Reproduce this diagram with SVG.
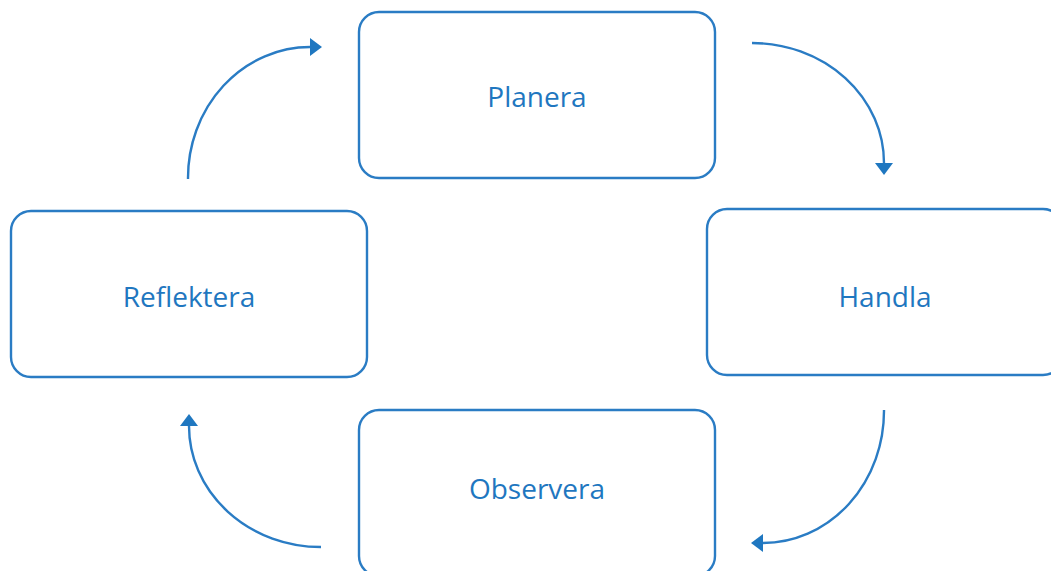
<svg xmlns="http://www.w3.org/2000/svg" width="1051" height="571" viewBox="0 0 1051 571">
<style>
.box{fill:#fff;stroke:#2a7cc4;stroke-width:2.4}
.lbl{font-family:"Open Sans","Liberation Sans",sans-serif;font-size:28px;fill:#1f77c0;text-anchor:middle}
.arc{fill:none;stroke:#2a7cc4;stroke-width:2.4}
</style>
<defs>
<marker id="ah" viewBox="0 0 12 18" refX="0" refY="9" markerWidth="12" markerHeight="18" markerUnits="userSpaceOnUse" orient="auto">
<path d="M0,0 L12,9 L0,18 Z" fill="#1f77c0"/>
</marker>
</defs>
<rect width="1051" height="571" fill="#fff"/>
<g id="connectors">
<path class="arc" d="M188,179 A122,131 0 0 1 310,47" marker-end="url(#ah)"/>
<path class="arc" d="M752,43 A132,120 0 0 1 884,163" marker-end="url(#ah)"/>
<path class="arc" d="M884,410 A121,132 0 0 1 763,543" marker-end="url(#ah)"/>
<path class="arc" d="M321,547 A132,121 0 0 1 189,426" marker-end="url(#ah)"/>
</g>
<g id="planera">
<rect class="box" x="359" y="12" width="356" height="166" rx="20"/>
<text class="lbl" x="537" y="107">Planera</text>
</g>
<g id="handla">
<rect class="box" x="707" y="209" width="356" height="166" rx="20"/>
<text class="lbl" x="885" y="307">Handla</text>
</g>
<g id="observera">
<rect class="box" x="359" y="410" width="356" height="166" rx="20"/>
<text class="lbl" x="537" y="499">Observera</text>
</g>
<g id="reflektera">
<rect class="box" x="11" y="211" width="356" height="166" rx="20"/>
<text class="lbl" x="189" y="307">Reflektera</text>
</g>
</svg>
